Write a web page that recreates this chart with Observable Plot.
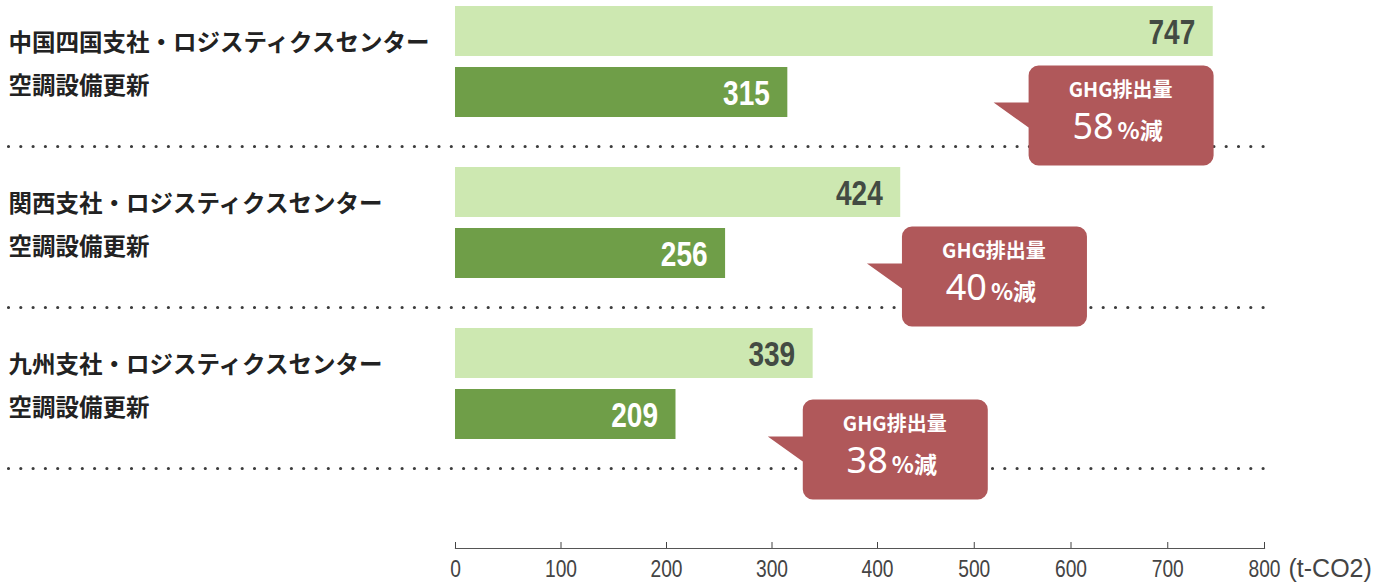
<!DOCTYPE html>
<html><head><meta charset="utf-8">
<script src="https://cdn.jsdelivr.net/npm/d3@7"></script>
<script src="https://cdn.jsdelivr.net/npm/@observablehq/plot@0.6"></script>
<style>
body{margin:0;background:#fff;}
#chart svg{display:block;}
</style>
</head><body><div id="chart"></div>
<script>
// ---- data ----
const facilities = ["中国四国支社・ロジスティクスセンター", "関西支社・ロジスティクスセンター", "九州支社・ロジスティクスセンター"];
const project = "空調設備更新";
const series = ["before", "after"];
const beforeValues = [747, 424, 339];
const afterValues = [315, 256, 209];
const reductions = [58, 40, 38];
const calloutTitle = "GHG排出量";
const calloutSuffix = "%減";
const xTicks = [0, 100, 200, 300, 400, 500, 600, 700, 800];
const unitLabel = "(t-CO2)";

const rows = facilities.flatMap((f, i) => [
  {group: f, series: "before", value: beforeValues[i]},
  {group: f, series: "after", value: afterValues[i]}
]);

// annotation layout: callout pointer tip (x in data units) and vertical nudge
const calloutTipX = [520, 390, 296];
const calloutNudge = [10, 10, 22];
const callouts = facilities.map((f, i) => ({group: f, tip: calloutTipX[i], pct: reductions[i], nudge: calloutNudge[i]}));

// ---- styles ----
const LIGHT = "#cde8b1", DARK = "#6f9e48", RED = "#b0585a";
const SANS = "'Liberation Sans', Arial, sans-serif";
const JP = "'Noto Sans CJK JP', 'Noto Sans', sans-serif";
const AXIS_DROP = 80;
const VALUE_SIZE = 35;

const calloutShape = {
  draw(ctx) {
    const L = 35, R = 220, T = -37, B = 63, r = 10, pb = 25;
    ctx.moveTo(0, 0);
    ctx.lineTo(L, 0);
    ctx.lineTo(L, T + r);
    ctx.arcTo(L, T, L + r, T, r);
    ctx.lineTo(R - r, T);
    ctx.arcTo(R, T, R, T + r, r);
    ctx.lineTo(R, B - r);
    ctx.arcTo(R, B, R - r, B, r);
    ctx.lineTo(L + r, B);
    ctx.arcTo(L, B, L, B - r, r);
    ctx.lineTo(L, pb);
    ctx.closePath();
  }
};

const calloutMarks = callouts.flatMap(c => {
  const d = [c];
  const o = {x: "tip", y: () => "after", fy: "group"};
  return [
    Plot.dot(d, {...o, symbol: calloutShape, fill: RED, stroke: null, dy: c.nudge}),
    Plot.text(d, {...o, text: () => calloutTitle, dx: 127, dy: c.nudge - 12,
      fill: "#fff", fontSize: 20, fontFamily: JP, fontWeight: "bold"}),
    Plot.text(d, {...o, text: "pct", dx: 120, dy: c.nudge + 36, lineAnchor: "bottom",
      textAnchor: "end", fill: "#fff", fontSize: 36, fontFamily: "'Noto Sans', sans-serif"}),
    Plot.text(d, {...o, text: () => calloutSuffix, dx: 124, dy: c.nudge + 36, lineAnchor: "bottom",
      textAnchor: "start", fill: "#fff", fontSize: 23, fontFamily: JP, fontWeight: "bold"})
  ];
});

const chart = Plot.plot({
  width: 1396,
  height: 582,
  marginTop: 5,
  marginBottom: 33,
  marginLeft: 455,
  marginRight: 132,
  style: {fontFamily: SANS, background: "#fff"},
  x: {type: "linear", domain: [0, 400, 800], range: [455, 877, 1264]},
  fy: {domain: facilities, paddingInner: 0.1264, paddingOuter: 0.2485, align: 0, axis: null},
  y: {domain: series, paddingInner: 0.177, paddingOuter: 0, insetBottom: 28, axis: null},
  color: {domain: series, range: [LIGHT, DARK]},
  marks: [
    // dotted separators
    Plot.frame({anchor: "bottom", insetLeft: -447, stroke: "#3c3c3c", strokeWidth: 3.2, strokeDasharray: "0 12.3", strokeLinecap: "round"}),
    // bars
    Plot.barX(rows, {x: "value", y: "series", fy: "group", fill: "series"}),
    // value labels
    Plot.text(rows, {filter: d => d.series === "before", x: "value", y: "series", fy: "group", text: "value",
      textAnchor: "end", dx: -18, dy: 1, fill: "#434b43", fontSize: VALUE_SIZE, fontWeight: "bold"}),
    Plot.text(rows, {filter: d => d.series === "after", x: "value", y: "series", fy: "group", text: "value",
      textAnchor: "end", dx: -18, dy: 1, fill: "#fff", fontSize: VALUE_SIZE, fontWeight: "bold"}),
    // left labels
    Plot.text(rows, {filter: d => d.series === "before", y: "series", fy: "group", text: "group",
      frameAnchor: "left", textAnchor: "start", dx: -447, dy: 12, fontSize: 23.5, fontWeight: "bold", fill: "#222", fontFamily: JP}),
    Plot.text(rows, {filter: d => d.series === "after", y: "series", fy: "group", text: () => project,
      frameAnchor: "left", textAnchor: "start", dx: -447, dy: -6, fontSize: 23.5, fontWeight: "bold", fill: "#222", fontFamily: JP}),
    // callouts
    ...calloutMarks,
    // axis (below the last facet)
    Plot.frame({facetAnchor: "bottom", anchor: "bottom", dy: AXIS_DROP, stroke: "#555", strokeWidth: 1.2}),
    Plot.axisX(xTicks, {anchor: "bottom", dy: AXIS_DROP, tickSize: -6, tickPadding: 17, fontSize: 24,
      color: "#444", label: null, tickFormat: d => String(d)}),
    Plot.text([unitLabel], {facetAnchor: "bottom", frameAnchor: "bottom-right", textAnchor: "start", lineAnchor: "top",
      dx: 24, dy: AXIS_DROP + 11, fontSize: 25, fill: "#444", text: d => d})
  ]
});
document.getElementById("chart").appendChild(chart);

// narrow the numeric labels (scaled about their anchor) to match the condensed typeface of the original
const valueStrings = new Set([...beforeValues, ...afterValues].map(String));
const tickStrings = new Set(xTicks.map(String));
chart.querySelectorAll("text").forEach(t => {
  const tr = t.getAttribute("transform");
  if (!tr) return;
  const s = t.textContent.trim();
  const size = parseFloat(getComputedStyle(t).fontSize);
  let factor = null;
  if (valueStrings.has(s) && size > 30) factor = 0.8;
  else if (tickStrings.has(s) && size < 30) factor = 0.8;
  if (factor) t.setAttribute("transform", `${tr} scale(${factor},1)`);
});
</script>
</body></html>
